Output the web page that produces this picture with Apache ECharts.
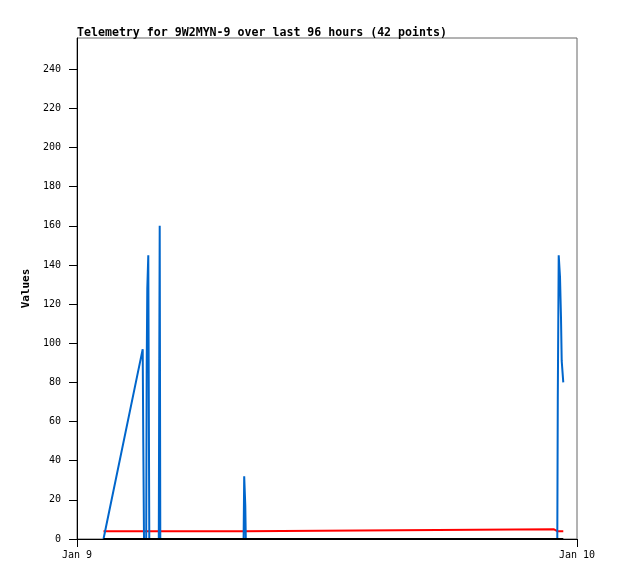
<!DOCTYPE html>
<html>
<head>
<meta charset="utf-8">
<script src="https://cdn.jsdelivr.net/npm/echarts@6/dist/echarts.min.js"></script>
<style>html,body{margin:0;padding:0;background:#fff}#c{width:618px;height:579px}</style>
</head>
<body>
<div id="c"></div>
<script>
// Sample times on Jan 9 (UTC, HH:MM:SS)
const times = ['01:16:19','03:09:14','03:10:55','03:12:58','03:19:19','03:20:45','03:22:26','03:25:19','03:28:12',
               '03:55:34','03:56:46','03:58:12','03:59:53','07:59:49','08:01:32','08:04:41','08:06:07',
               '22:52:30','22:55:30','23:03:14','23:04:41','23:07:19','23:11:02','23:13:55','23:15:58','23:20:30'];
const blueValues  = [0, 97, 49, 0, 0, 88, 128, 145, 0,
                     0, 80, 160, 0, 0, 32, 17, 0,
                     0, 0, 0, 72, 145, 134, 113, 91, 80];
const redValues   = [4, 4, 4, 4, 4, 4, 4, 4, 4,
                     4, 4, 4, 4, 4, 5, 5, 5,
                     5, 4, 4, 4, 4, 4, 4, 4, 4];
const blackValues = [0, 0, 0, 0, 0, 0, 0, 0, 0,
                     0, 0, 0, 0, 0, 0, 0, 0,
                     0, 0, 0, 0, 0, 0, 0, 0, 0];
const yTicks = [0, 20, 40, 60, 80, 100, 120, 140, 160, 180, 200, 220, 240];
const xTickLabels = ['Jan 9', 'Jan 10'];
const titleText = 'Telemetry for 9W2MYN-9 over last 96 hours (42 points)';

const DAY = 86400000;
const day0 = Date.UTC(2024, 0, 9);
function ts(t) { const [h, m, s] = t.split(':').map(Number); return day0 + ((h * 60 + m) * 60 + s) * 1000; }
const pairs = vals => times.map((t, i) => [ts(t), vals[i]]);

const FONT = '"DejaVu Sans Mono", "Liberation Mono", monospace';
const chart = echarts.init(document.getElementById('c'), null, {renderer: 'canvas'});
chart.setOption({
  animation: false,
  backgroundColor: '#fff',
  title: {
    text: titleText, left: 72, top: 22,
    textStyle: {fontFamily: FONT, fontSize: 11.6, fontWeight: 'bold', color: '#000'}
  },
  grid: {left: 77, right: 41, top: 38, bottom: 40, show: true, borderColor: '#666', borderWidth: 1},
  xAxis: {
    type: 'value', min: day0, max: day0 + DAY, interval: DAY,
    axisLine: {show: true, lineStyle: {color: '#000'}},
    axisTick: {show: true, length: 8, lineStyle: {color: '#000'}},
    splitLine: {show: false},
    axisLabel: {
      margin: 11, color: '#000', fontFamily: FONT, fontSize: 10,
      formatter: v => xTickLabels[Math.round((v - day0) / DAY)] || ''
    }
  },
  yAxis: {
    type: 'value', min: 0, max: 256,
    name: 'Values', nameLocation: 'middle', nameGap: 39,
    nameTextStyle: {fontFamily: FONT, fontSize: 11, fontWeight: 'bold', color: '#000'},
    axisLine: {show: true, lineStyle: {color: '#000'}},
    axisTick: {show: true, length: 8, lineStyle: {color: '#000'}, customValues: yTicks},
    splitLine: {show: false},
    axisLabel: {margin: 16, color: '#000', fontFamily: FONT, fontSize: 10, customValues: yTicks}
  },
  series: [
    {type: 'line', data: pairs(redValues), showSymbol: false, symbol: 'none',
     lineStyle: {color: '#ff0000', width: 2}, z: 2},
    {type: 'line', data: pairs(blueValues), showSymbol: false, symbol: 'none',
     lineStyle: {color: '#0066cc', width: 2}, z: 3},
    {type: 'line', data: pairs(blackValues), showSymbol: false, symbol: 'none',
     lineStyle: {color: '#000000', width: 2}, z: 4}
  ]
});
</script>
</body>
</html>
